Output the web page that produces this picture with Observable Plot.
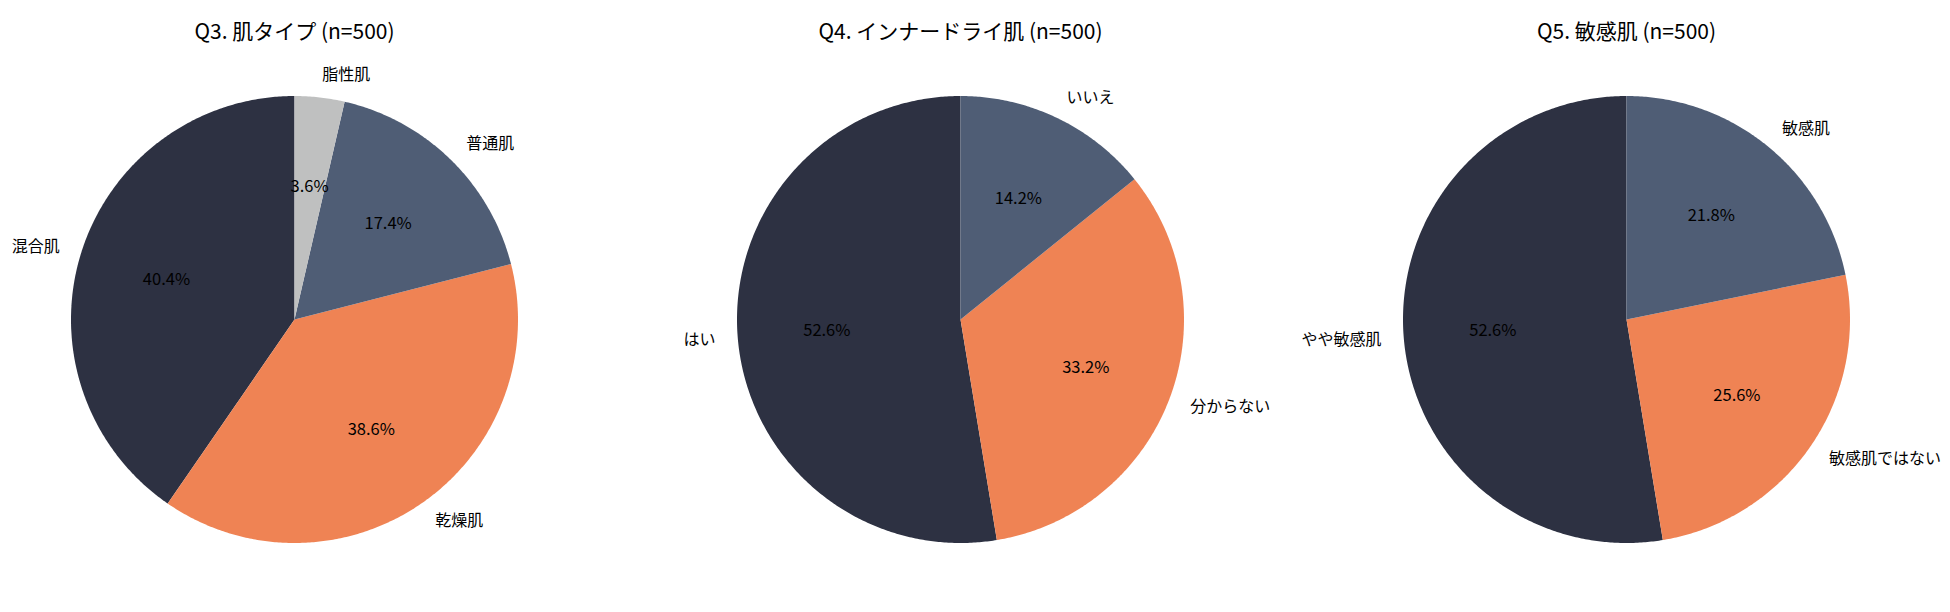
<!DOCTYPE html>
<html><head><meta charset="utf-8">
<script src="https://cdn.jsdelivr.net/npm/d3@7"></script>
<script src="https://cdn.jsdelivr.net/npm/@observablehq/plot@0.6"></script>
<style>
html,body{margin:0;padding:0;background:#fff;}
#chart{display:flex;width:1950px;height:612px;}
#chart svg{font-family:"Noto Sans CJK JP","Noto Sans",sans-serif;overflow:visible;}
</style></head><body><div id="chart"></div>
<script>
// ---- data ----
const titles = ["Q3. 肌タイプ (n=500)", "Q4. インナードライ肌 (n=500)", "Q5. 敏感肌 (n=500)"];
const q3Labels = ["混合肌", "乾燥肌", "普通肌", "脂性肌"];
const q3Values = [202, 193, 87, 18];
const q4Labels = ["はい", "分からない", "いいえ"];
const q4Values = [263, 166, 71];
const q5Labels = ["やや敏感肌", "敏感肌ではない", "敏感肌"];
const q5Values = [263, 128, 109];
const palette = ["#2D3142", "#EF8354", "#4F5D75", "#BFC0C0"];

// ---- layout ----
const W = 650, H = 612, R = 223.5, CY = 319;
const centers = [294, 960, 1626];

function build(labels, values) {
  const total = d3.sum(values);
  const arcs = d3.pie().sort(null).startAngle(0).endAngle(-2 * Math.PI)(values);
  const poly = [], lab = [];
  arcs.forEach((a, i) => {
    const label = labels[i];
    const a0 = a.startAngle, a1 = a.endAngle;
    const n = Math.max(4, Math.ceil(Math.abs(a1 - a0) / (Math.PI / 360)));
    poly.push({label, x: 0, y: 0});
    for (let k = 0; k <= n; k++) {
      const t = a0 + (a1 - a0) * k / n;
      poly.push({label, x: R * Math.sin(t), y: R * Math.cos(t)});
    }
    const m = (a0 + a1) / 2;
    lab.push({
      label,
      pct: (values[i] / total * 100).toFixed(1) + "%",
      lx: 1.1 * R * Math.sin(m), ly: 1.1 * R * Math.cos(m),
      px: 0.6 * R * Math.sin(m), py: 0.6 * R * Math.cos(m)
    });
  });
  return {poly, lab};
}

const sets = [[q3Labels, q3Values], [q4Labels, q4Values], [q5Labels, q5Values]];
sets.forEach(([labels, values], i) => {
  const {poly, lab} = build(labels, values);
  const cx = centers[i];
  const plot = Plot.plot({
    width: W, height: H, margin: 0,
    x: {type: "linear", domain: [W * i - cx, W * (i + 1) - cx], range: [0, W], axis: null},
    y: {type: "linear", domain: [CY - H, CY], range: [H, 0], axis: null},
    color: {domain: labels, range: palette.slice(0, labels.length)},
    marks: [
      Plot.line(poly, {x: "x", y: "y", z: "label", fill: "label", stroke: null, curve: "linear"}),
      Plot.text(lab.filter(d => d.lx >= 0), {x: "lx", y: "ly", text: "label", textAnchor: "start", fontSize: 16, fill: "#000"}),
      Plot.text(lab.filter(d => d.lx < 0), {x: "lx", y: "ly", text: "label", textAnchor: "end", fontSize: 16, fill: "#000"}),
      Plot.text(lab, {x: "px", y: "py", text: "pct", fontSize: 16.5, fill: "#000"}),
      Plot.text([titles[i]], {x: d => 0, text: d => d, frameAnchor: "top", dy: 24, fontSize: 21, fill: "#000"})
    ]
  });
  document.getElementById("chart").appendChild(plot);
});
</script></body></html>
